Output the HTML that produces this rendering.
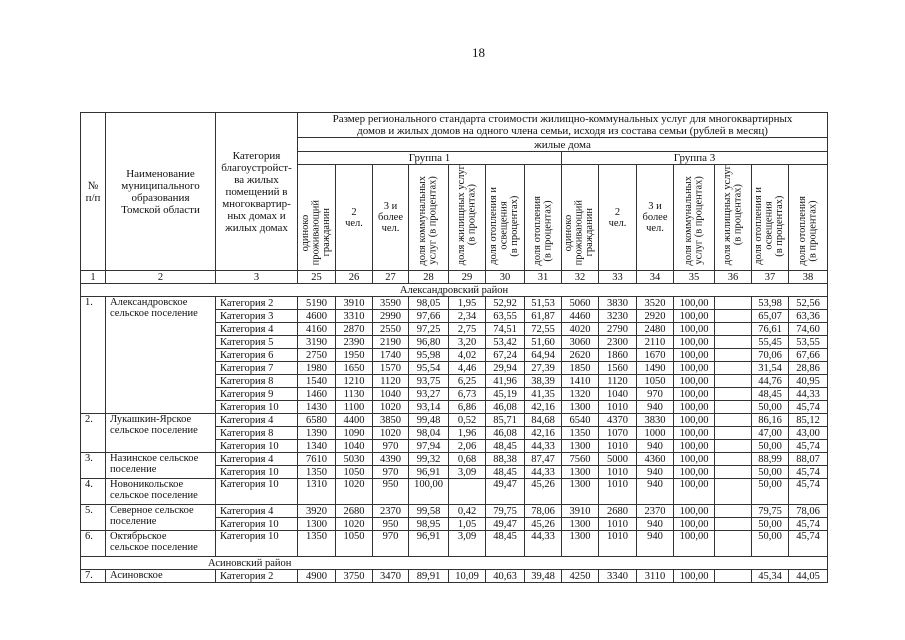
<!DOCTYPE html>
<html><head><meta charset="utf-8">
<style>
html,body{margin:0;padding:0;background:#fff;}
body{width:905px;height:640px;position:relative;overflow:hidden;font-family:"Liberation Serif","DejaVu Serif",serif;color:#111;}
.pg{position:absolute;left:472px;top:45px;font-size:13px;}
table{position:absolute;left:80px;top:112px;border-collapse:collapse;table-layout:fixed;font-size:10.5px;line-height:11px;}
td{border:1px solid #333;padding:0;text-align:center;vertical-align:middle;overflow:hidden;white-space:nowrap;}
td.l{text-align:left;padding-left:4px;vertical-align:top;}
td.w{white-space:normal;}
td.r{vertical-align:bottom;padding-bottom:2px;}
.v{display:inline-block;writing-mode:vertical-rl;transform:rotate(180deg);text-align:center;line-height:10.5px;white-space:nowrap;font-size:10.5px;}
tr.d td{height:12px;}
tr.d2 td{height:25px;}
.hd{font-size:11px;line-height:12px;}
</style></head><body>
<div class="pg">18</div>
<table>
<colgroup>
<col style="width:25px"><col style="width:110px"><col style="width:82px">
<col style="width:38px"><col style="width:37px"><col style="width:36px"><col style="width:40px"><col style="width:37px"><col style="width:39px"><col style="width:37px">
<col style="width:37px"><col style="width:38px"><col style="width:37px"><col style="width:41px"><col style="width:37px"><col style="width:37px"><col style="width:39px">
</colgroup>
<tr style="height:24px"><td rowspan="4" class="w hd">№<br>п/п</td><td rowspan="4" class="w hd">Наименование<br>муниципального<br>образования<br>Томской области</td><td rowspan="4" class="w hd">Категория<br>благоустройст-<br>ва жилых<br>помещений в<br>многоквартир-<br>ных домах и<br>жилых домах</td><td colspan="14" class="hd">Размер регионального стандарта стоимости жилищно-коммунальных услуг для многоквартирных<br>домов и жилых домов на одного члена семьи, исходя из состава семьи (рублей в месяц)</td></tr>
<tr style="height:14px"><td colspan="14" class="hd">жилые дома</td></tr>
<tr style="height:12px"><td colspan="7" class="hd">Группа 1</td><td colspan="7" class="hd">Группа 3</td></tr>
<tr style="height:100px">
<td class="r"><span class="v">одиноко<br>проживающий<br>гражданин</span></td>
<td>2<br>чел.</td><td>3 и<br>более<br>чел.</td>
<td class="r"><span class="v">доля коммунальных<br>услуг (в процентах)</span></td>
<td class="r"><span class="v">доля жилищных услуг<br>(в процентах)</span></td>
<td class="r"><span class="v">доля отопления и<br>освещения<br>(в процентах)</span></td>
<td class="r"><span class="v">доля отопления<br>(в процентах)</span></td>
<td class="r"><span class="v">одиноко<br>проживающий<br>гражданин</span></td>
<td>2<br>чел.</td><td>3 и<br>более<br>чел.</td>
<td class="r"><span class="v">доля коммунальных<br>услуг (в процентах)</span></td>
<td class="r"><span class="v">доля жилищных услуг<br>(в процентах)</span></td>
<td class="r"><span class="v">доля отопления и<br>освещения<br>(в процентах)</span></td>
<td class="r"><span class="v">доля отопления<br>(в процентах)</span></td>
</tr>
<tr style="height:13px"><td>1</td><td>2</td><td>3</td><td>25</td><td>26</td><td>27</td><td>28</td><td>29</td><td>30</td><td>31</td><td>32</td><td>33</td><td>34</td><td>35</td><td>36</td><td>37</td><td>38</td></tr>
<tr class="d"><td colspan="17" style="padding-left:0">Александровский район</td></tr>
<tr class="d"><td rowspan="9" class="l">1.</td><td rowspan="9" class="l">Александровское<br>сельское поселение</td><td class="l" style="vertical-align:middle">Категория 2</td><td>5190</td><td>3910</td><td>3590</td><td>98,05</td><td>1,95</td><td>52,92</td><td>51,53</td><td>5060</td><td>3830</td><td>3520</td><td>100,00</td><td></td><td>53,98</td><td>52,56</td></tr>
<tr class="d"><td class="l" style="vertical-align:middle">Категория 3</td><td>4600</td><td>3310</td><td>2990</td><td>97,66</td><td>2,34</td><td>63,55</td><td>61,87</td><td>4460</td><td>3230</td><td>2920</td><td>100,00</td><td></td><td>65,07</td><td>63,36</td></tr>
<tr class="d"><td class="l" style="vertical-align:middle">Категория 4</td><td>4160</td><td>2870</td><td>2550</td><td>97,25</td><td>2,75</td><td>74,51</td><td>72,55</td><td>4020</td><td>2790</td><td>2480</td><td>100,00</td><td></td><td>76,61</td><td>74,60</td></tr>
<tr class="d"><td class="l" style="vertical-align:middle">Категория 5</td><td>3190</td><td>2390</td><td>2190</td><td>96,80</td><td>3,20</td><td>53,42</td><td>51,60</td><td>3060</td><td>2300</td><td>2110</td><td>100,00</td><td></td><td>55,45</td><td>53,55</td></tr>
<tr class="d"><td class="l" style="vertical-align:middle">Категория 6</td><td>2750</td><td>1950</td><td>1740</td><td>95,98</td><td>4,02</td><td>67,24</td><td>64,94</td><td>2620</td><td>1860</td><td>1670</td><td>100,00</td><td></td><td>70,06</td><td>67,66</td></tr>
<tr class="d"><td class="l" style="vertical-align:middle">Категория 7</td><td>1980</td><td>1650</td><td>1570</td><td>95,54</td><td>4,46</td><td>29,94</td><td>27,39</td><td>1850</td><td>1560</td><td>1490</td><td>100,00</td><td></td><td>31,54</td><td>28,86</td></tr>
<tr class="d"><td class="l" style="vertical-align:middle">Категория 8</td><td>1540</td><td>1210</td><td>1120</td><td>93,75</td><td>6,25</td><td>41,96</td><td>38,39</td><td>1410</td><td>1120</td><td>1050</td><td>100,00</td><td></td><td>44,76</td><td>40,95</td></tr>
<tr class="d"><td class="l" style="vertical-align:middle">Категория 9</td><td>1460</td><td>1130</td><td>1040</td><td>93,27</td><td>6,73</td><td>45,19</td><td>41,35</td><td>1320</td><td>1040</td><td>970</td><td>100,00</td><td></td><td>48,45</td><td>44,33</td></tr>
<tr class="d"><td class="l" style="vertical-align:middle">Категория 10</td><td>1430</td><td>1100</td><td>1020</td><td>93,14</td><td>6,86</td><td>46,08</td><td>42,16</td><td>1300</td><td>1010</td><td>940</td><td>100,00</td><td></td><td>50,00</td><td>45,74</td></tr>
<tr class="d"><td rowspan="3" class="l">2.</td><td rowspan="3" class="l">Лукашкин-Ярское<br>сельское поселение</td><td class="l" style="vertical-align:middle">Категория 4</td><td>6580</td><td>4400</td><td>3850</td><td>99,48</td><td>0,52</td><td>85,71</td><td>84,68</td><td>6540</td><td>4370</td><td>3830</td><td>100,00</td><td></td><td>86,16</td><td>85,12</td></tr>
<tr class="d"><td class="l" style="vertical-align:middle">Категория 8</td><td>1390</td><td>1090</td><td>1020</td><td>98,04</td><td>1,96</td><td>46,08</td><td>42,16</td><td>1350</td><td>1070</td><td>1000</td><td>100,00</td><td></td><td>47,00</td><td>43,00</td></tr>
<tr class="d"><td class="l" style="vertical-align:middle">Категория 10</td><td>1340</td><td>1040</td><td>970</td><td>97,94</td><td>2,06</td><td>48,45</td><td>44,33</td><td>1300</td><td>1010</td><td>940</td><td>100,00</td><td></td><td>50,00</td><td>45,74</td></tr>
<tr class="d"><td rowspan="2" class="l">3.</td><td rowspan="2" class="l">Назинское сельское<br>поселение</td><td class="l" style="vertical-align:middle">Категория 4</td><td>7610</td><td>5030</td><td>4390</td><td>99,32</td><td>0,68</td><td>88,38</td><td>87,47</td><td>7560</td><td>5000</td><td>4360</td><td>100,00</td><td></td><td>88,99</td><td>88,07</td></tr>
<tr class="d"><td class="l" style="vertical-align:middle">Категория 10</td><td>1350</td><td>1050</td><td>970</td><td>96,91</td><td>3,09</td><td>48,45</td><td>44,33</td><td>1300</td><td>1010</td><td>940</td><td>100,00</td><td></td><td>50,00</td><td>45,74</td></tr>
<tr class="d2" style="vertical-align:top"><td class="l">4.</td><td class="l">Новоникольское<br>сельское поселение</td><td class="l">Категория 10</td><td style="vertical-align:top">1310</td><td style="vertical-align:top">1020</td><td style="vertical-align:top">950</td><td style="vertical-align:top">100,00</td><td></td><td style="vertical-align:top">49,47</td><td style="vertical-align:top">45,26</td><td style="vertical-align:top">1300</td><td style="vertical-align:top">1010</td><td style="vertical-align:top">940</td><td style="vertical-align:top">100,00</td><td></td><td style="vertical-align:top">50,00</td><td style="vertical-align:top">45,74</td></tr>
<tr class="d"><td rowspan="2" class="l">5.</td><td rowspan="2" class="l">Северное сельское<br>поселение</td><td class="l" style="vertical-align:middle">Категория 4</td><td>3920</td><td>2680</td><td>2370</td><td>99,58</td><td>0,42</td><td>79,75</td><td>78,06</td><td>3910</td><td>2680</td><td>2370</td><td>100,00</td><td></td><td>79,75</td><td>78,06</td></tr>
<tr class="d"><td class="l" style="vertical-align:middle">Категория 10</td><td>1300</td><td>1020</td><td>950</td><td>98,95</td><td>1,05</td><td>49,47</td><td>45,26</td><td>1300</td><td>1010</td><td>940</td><td>100,00</td><td></td><td>50,00</td><td>45,74</td></tr>
<tr class="d2"><td class="l">6.</td><td class="l">Октябрьское<br>сельское поселение</td><td class="l">Категория 10</td><td style="vertical-align:top">1350</td><td style="vertical-align:top">1050</td><td style="vertical-align:top">970</td><td style="vertical-align:top">96,91</td><td style="vertical-align:top">3,09</td><td style="vertical-align:top">48,45</td><td style="vertical-align:top">44,33</td><td style="vertical-align:top">1300</td><td style="vertical-align:top">1010</td><td style="vertical-align:top">940</td><td style="vertical-align:top">100,00</td><td></td><td style="vertical-align:top">50,00</td><td style="vertical-align:top">45,74</td></tr>
<tr class="d"><td colspan="17" style="text-align:left;padding-left:127px">Асиновский район</td></tr>
<tr class="d"><td class="l">7.</td><td class="l">Асиновское</td><td class="l" style="vertical-align:middle">Категория 2</td><td>4900</td><td>3750</td><td>3470</td><td>89,91</td><td>10,09</td><td>40,63</td><td>39,48</td><td>4250</td><td>3340</td><td>3110</td><td>100,00</td><td></td><td>45,34</td><td>44,05</td></tr>
</table>
</body></html>
